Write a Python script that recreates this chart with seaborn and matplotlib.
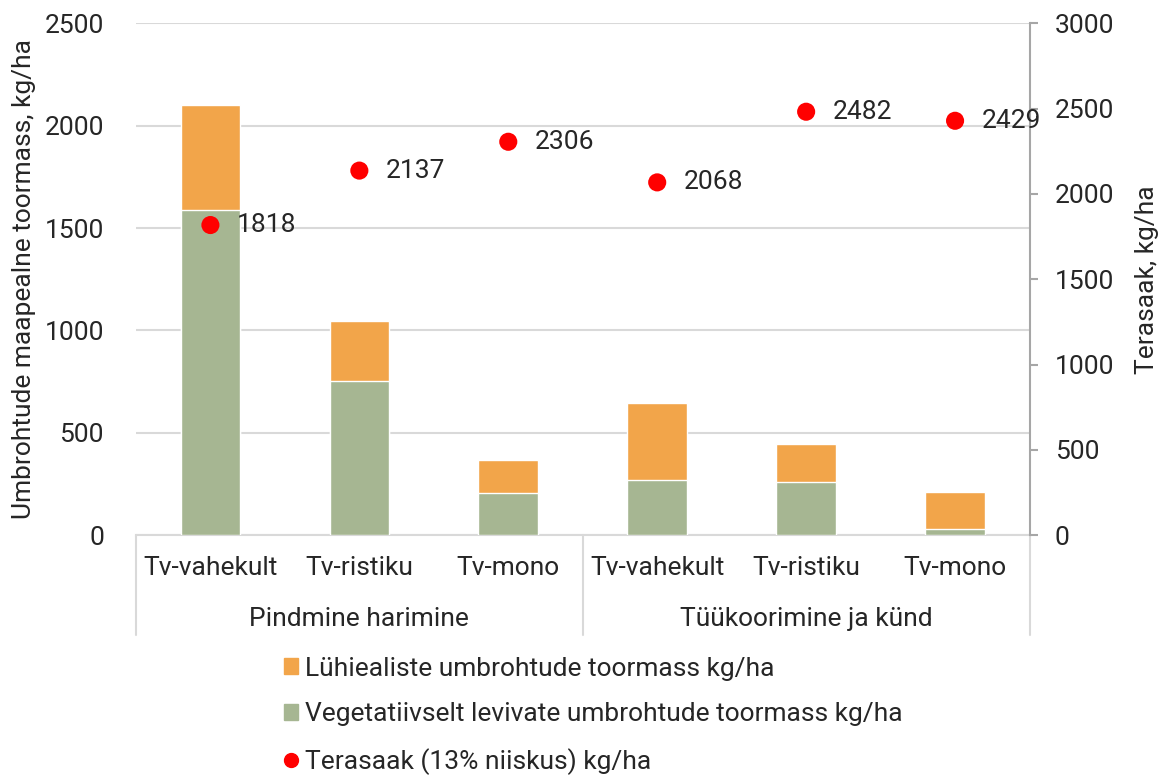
import pandas as pd
import matplotlib.pyplot as plt
import matplotlib.transforms as mtransforms
from matplotlib.lines import Line2D
from matplotlib.patches import Patch
import seaborn as sns

# Data
groups = ["Pindmine harimine"] * 3 + ["Tüükoorimine ja künd"] * 3
crops = ["Tv-vahekult", "Tv-ristiku", "Tv-mono"] * 2
short_lived = [510, 292, 161, 376, 185, 181]     # Lühiealiste umbrohtude toormass
vegetative = [1590, 752, 206, 271, 259, 31]      # Vegetatiivselt levivate umbrohtude toormass
grain_yield = [1818, 2137, 2306, 2068, 2482, 2429]  # Terasaak (13% niiskus)

df = pd.DataFrame({
    "key": [f"{g}|{c}" for g, c in zip(groups, crops)],
    "vegetative": vegetative,
    "total": [a + b for a, b in zip(short_lived, vegetative)],
    "yield": grain_yield,
})

sns.set_style("white")
plt.rcParams["font.family"] = ["Roboto", "DejaVu Sans"]
FS = 19
plt.rcParams["font.size"] = FS

ORANGE = "#F2A54A"
GREEN = "#A6B692"
RED = "#FF0000"
GRID = "#D9D9D9"

fig = plt.figure(figsize=(11.62, 7.78), dpi=100)
ax = fig.add_axes([0.117, 0.312, 0.769, 0.658])

sns.barplot(data=df, x="key", y="total", color=ORANGE, width=0.4,
            saturation=1, ax=ax, zorder=2)
sns.barplot(data=df, x="key", y="vegetative", color=GREEN, width=0.4,
            saturation=1, ax=ax, zorder=3)

ax.set_ylim(0, 2500)
ax.set_yticks(range(0, 2501, 500))
ax.set_xlim(-0.5, 5.5)
ax.yaxis.grid(True, color=GRID, linewidth=1.5, zorder=0)
ax.set_axisbelow(True)
for s in ["top", "right", "left"]:
    ax.spines[s].set_visible(False)
ax.spines["bottom"].set_color(GRID)
ax.spines["bottom"].set_linewidth(1.5)
ax.tick_params(axis="y", length=0, pad=23, labelsize=FS)
ax.tick_params(axis="x", length=0, pad=15, labelsize=FS)
ax.set_xticks(range(len(crops)))
ax.set_xticklabels(crops)
ax.set_xlabel("")
ax.set_ylabel("Umbrohtude maapealne toormass, kg/ha", fontsize=FS, labelpad=6)

# secondary axis with the yield points
ax2 = ax.twinx()
sns.scatterplot(x=list(range(len(grain_yield))), y=grain_yield, color=RED,
                s=170, edgecolor="none", ax=ax2, zorder=5)
ax2.set_ylim(0, 3000)
ax2.set_yticks(range(0, 3001, 500))
ax2.set_xlim(-0.5, 5.5)
for s in ["top", "left", "bottom"]:
    ax2.spines[s].set_visible(False)
ax2.spines["right"].set_color("#A6A6A6")
ax2.spines["right"].set_linewidth(1.5)
ax2.tick_params(axis="y", direction="out", length=6, width=1.5,
                color="#A6A6A6", pad=12, labelsize=FS)
ax2.set_ylabel("Terasaak, kg/ha", fontsize=FS, labelpad=15)
for i, v in enumerate(grain_yield):
    ax2.annotate(str(v), (i, v), xytext=(19, 0), textcoords="offset points",
                 va="center", ha="left", fontsize=FS)

# group labels and separators below the category axis
trans = mtransforms.blended_transform_factory(ax.transData, ax.transAxes)
for xsep in [-0.5, 2.5, 5.5]:
    ax.plot([xsep, xsep], [0, -0.195], transform=trans, color=GRID,
            linewidth=1.5, clip_on=False)
group_names = list(dict.fromkeys(groups))
for j, g in enumerate(group_names):
    ax.text(1 + 3 * j, -0.163, g, transform=trans, ha="center", va="center",
            fontsize=FS)

handles = [
    Patch(color=ORANGE, label="Lühiealiste umbrohtude toormass kg/ha"),
    Patch(color=GREEN, label="Vegetatiivselt levivate umbrohtude toormass kg/ha"),
    Line2D([], [], marker="o", linestyle="none", color=RED, markersize=10,
           label="Terasaak (13% niiskus) kg/ha"),
]
fig.legend(handles=handles, loc="upper left", bbox_to_anchor=(0.233, 0.173),
           frameon=False, fontsize=FS, handlelength=0.55, handleheight=0.55,
           handletextpad=0.25, labelspacing=0.82, borderpad=0)

fig.savefig("out.png", dpi=100)
